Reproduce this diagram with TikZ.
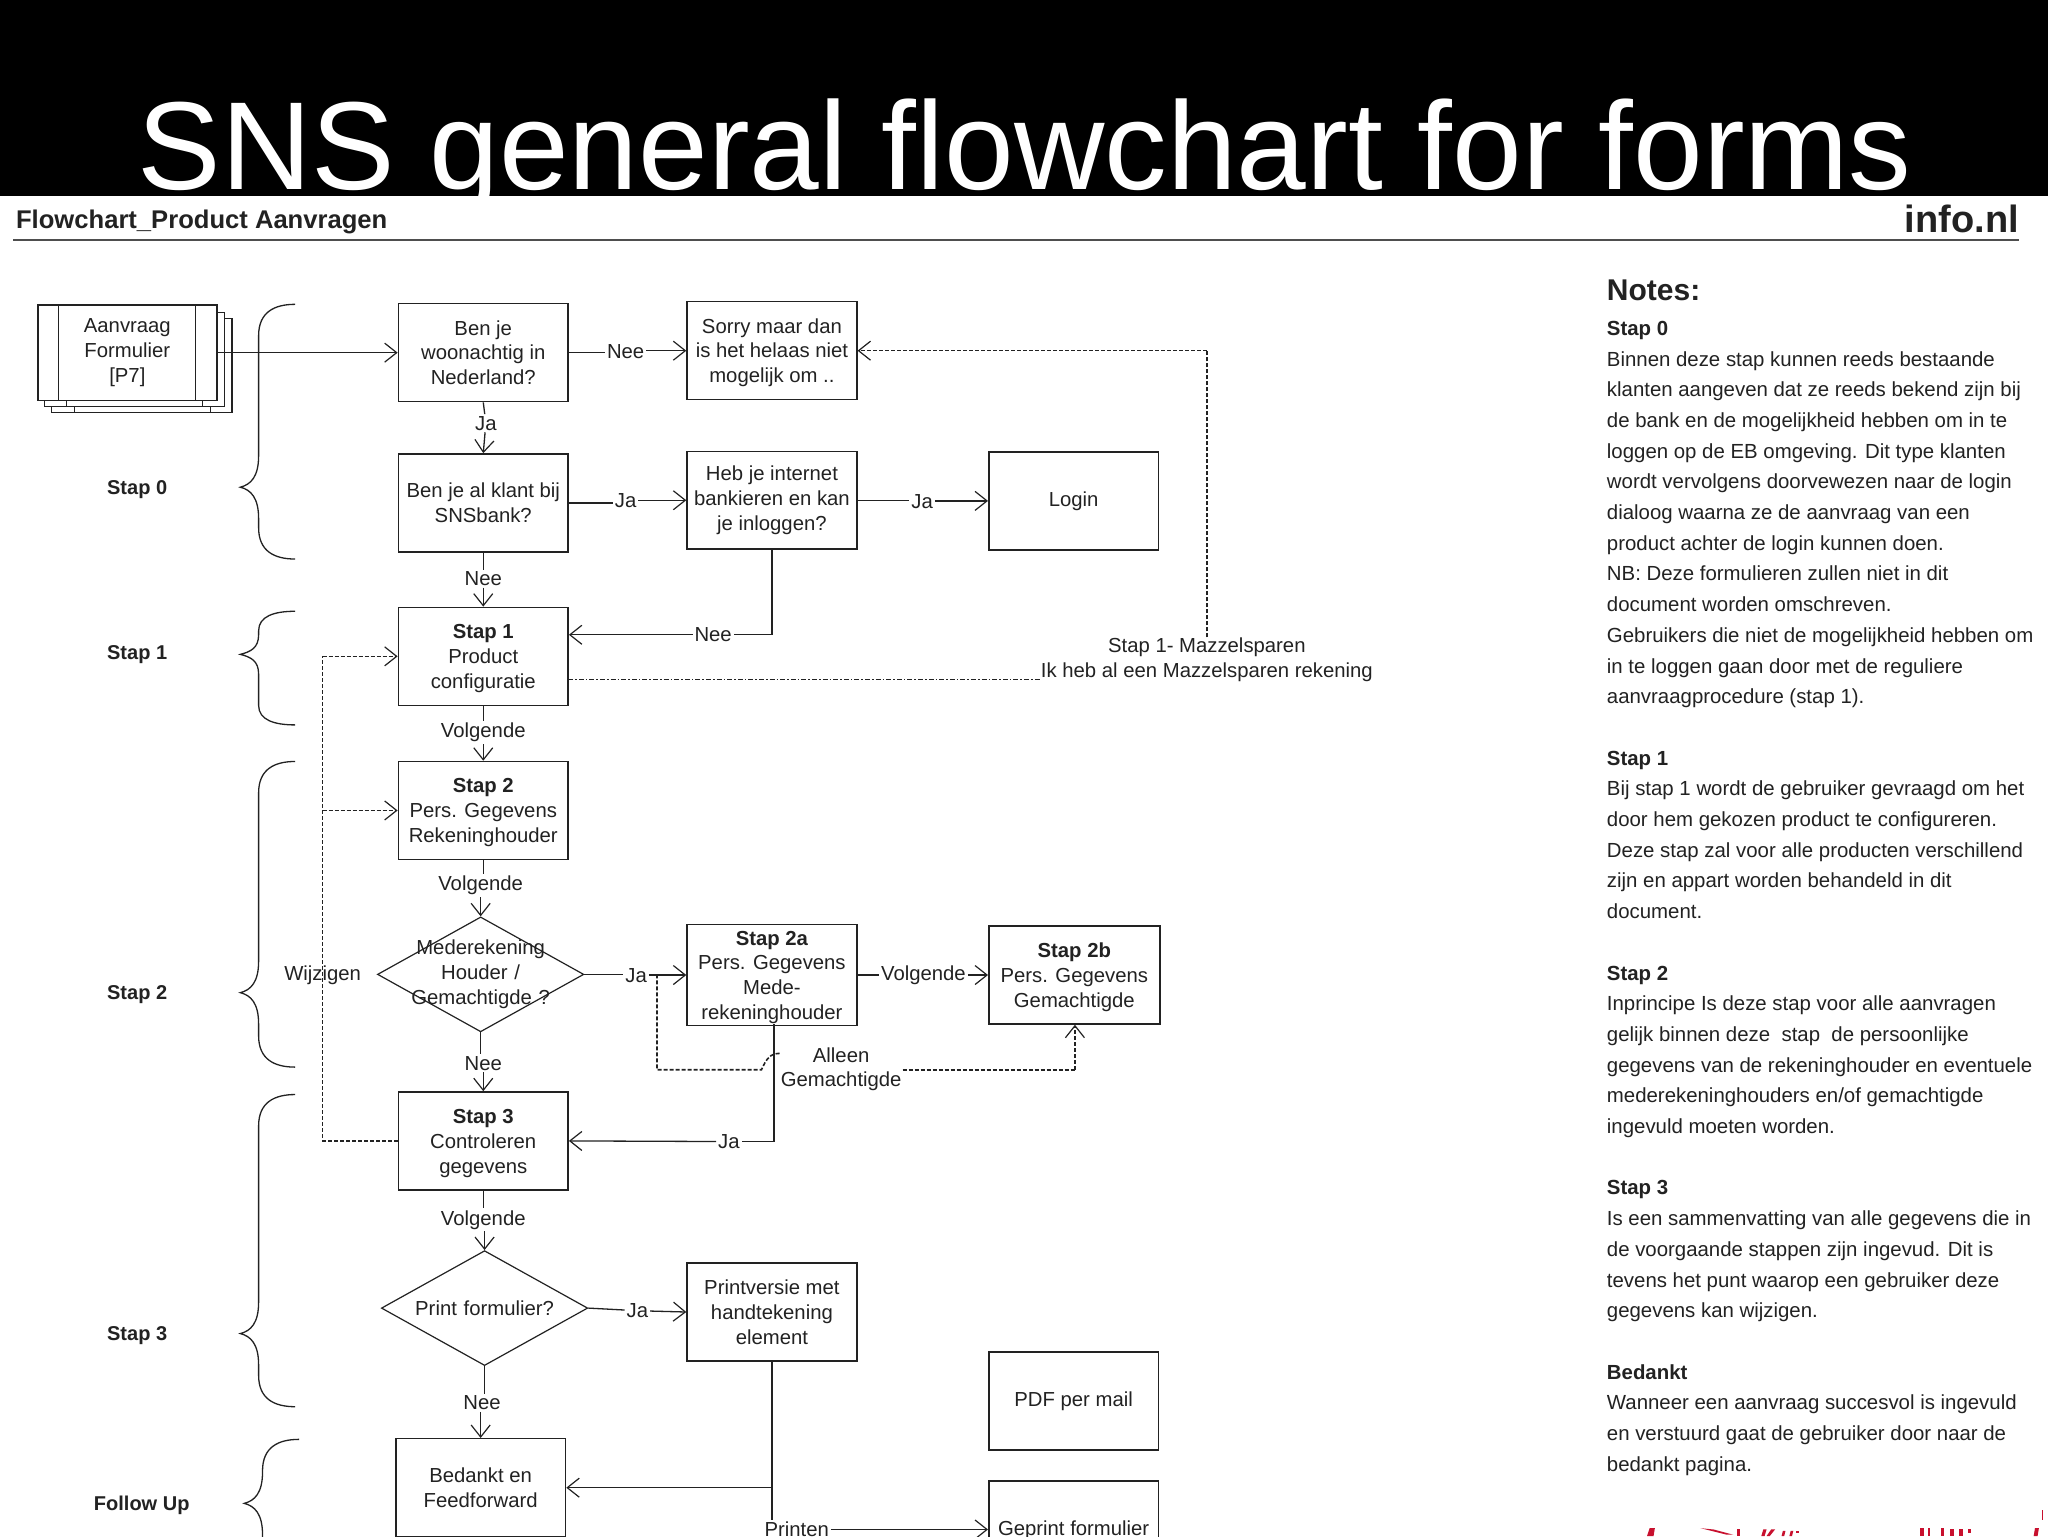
\documentclass[tikz,border=0pt]{standalone}
\usepackage{fontspec}
\setmainfont{Liberation Sans}
\usetikzlibrary{arrows.meta,shapes.geometric,calc}
\definecolor{ink}{HTML}{222222}
\definecolor{logored}{HTML}{C8102E}
\tikzset{
  box/.style={draw=ink,line width=.75pt,fill=white,minimum width=130*.653pt,minimum height=75*.653pt,inner sep=1pt,align=center,font=\fontsize{10.15}{12.4}\selectfont,text=ink},
  dia/.style={draw=ink,line width=.6pt,fill=white,diamond,aspect=1.8,inner sep=0pt,align=center,font=\fontsize{10.15}{12.4}\selectfont,text=ink},
  lbl/.style={inner sep=.8pt,font=\fontsize{10.15}{12.2}\selectfont,text=ink,align=center},
  stp/.style={font=\bfseries\fontsize{10}{12}\selectfont,text=ink},
  conn/.style={draw=ink,line width=.65pt},
  arr/.style={conn,-{Straight Barb[length=6pt,width=9.5pt,line width=.6pt]}},
  dsh/.style={draw=ink,line width=.8pt,dash pattern=on 2pt off 1pt},
  darr/.style={dsh,-{Straight Barb[length=6pt,width=9.5pt,line width=.6pt]}},
  brc/.style={draw=ink,line width=.65pt},
  logobit/.style={fill=logored,draw=none},
}
\newcommand{\sbrace}[5]{%
 \draw[brc] (#1+28,#2) .. controls (#1+12,#2) and (#1,#2+#5/4) .. (#1,#2+#5)
   -- (#1,#3-#5) .. controls (#1,#3-#5/3) and (#1-6,#3-2) .. (#1-14,#3)
   .. controls (#1-6,#3+2) and (#1,#3+#5/3) .. (#1,#3+#5)
   -- (#1,#4-#5) .. controls (#1,#4-#5/4) and (#1+12,#4) .. (#1+28,#4);}
\newcommand{\dn}{\rule{0pt}{9.4pt}}
\begin{document}
\begin{tikzpicture}[x=0.653061pt,y=-0.653061pt]
\useasboundingbox (0,0) rectangle (1568,1176);
\clip (0,0) rectangle (1568,1176);
\fill[black] (0,0) rectangle (1568,160);
\node[anchor=base,text=white,inner sep=0pt,font=\fontsize{62.6}{70}\selectfont] (title) at (784.5,145) {SNS general flowchart for forms};
\fill[white] (0,150) rectangle (1568,1176);
% header
\node[anchor=base west,inner sep=0pt,text=ink,font=\bfseries\fontsize{12.8}{14}\selectfont] (hdr) at (12,175) {Flowchart\_Product Aanvragen};
\node[anchor=base east,inner sep=0pt,text=ink,font=\bfseries\fontsize{19}{21}\selectfont] (info) at (1546,178) {info.nl};
\draw[draw=ink!80,line width=1pt] (10,184) -- (1546,184);
% form stack
\draw[conn,fill=white] (39.5,243.6) rectangle (177.7,316);
\draw[conn] (57,306) -- (57,316) (161,306) -- (161,316);
\draw[conn,fill=white] (34,239) rectangle (172,311);
\draw[conn] (51,306) -- (51,311) (155,306) -- (155,311);
\node[box,minimum width=137*.653pt,minimum height=73*.653pt] (form) at (97.5,270) {Aanvraag\\Formulier\\{[P7]}};
\draw[conn] (45,233.5) -- (45,306.5) (149.5,233.5) -- (149.5,306.5);
% boxes
\node[box] (q1) at (370,270) {Ben je\\woonachtig in\\Nederland?};
\node[box] (sorry) at (591,268.5) {\dn Sorry maar dan\\is het helaas niet\\mogelijk om ..};
\node[box] (q2) at (370,385) {Ben je al klant bij\\SNSbank?};
\node[box] (heb) at (591,383) {Heb je internet\\bankieren en kan\\je inloggen?};
\node[box] (login) at (822,383.5) {Login};
\node[box] (s1) at (370,502.5) {\dn\textbf{Stap 1}\\Product\\configuratie};
\node[box] (s2) at (370,620.5) {\dn\textbf{Stap 2}\\Pers. Gegevens\\Rekeninghouder};
\node[dia,minimum width=158*.653pt,minimum height=88*.653pt,text width=0pt] (d1) at (368,746) {\raisebox{-1pt}{\makebox[0pt]{Mederekening}}\\\raisebox{-1pt}{\makebox[0pt]{Houder /}}\\\raisebox{-1pt}{\makebox[0pt]{Gemachtigde ?}}};
\node[box] (s2a) at (591,746.5) {\dn\textbf{Stap 2a}\\Pers. Gegevens\\Mede-\\rekeninghouder};
\node[box,minimum width=131*.653pt] (s2b) at (822.5,746.5) {\dn\textbf{Stap 2b}\\Pers. Gegevens\\Gemachtigde};
\node[box] (s3) at (370,873.5) {\dn\textbf{Stap 3}\\Controleren\\gegevens};
\node[dia,minimum width=158*.653pt,minimum height=88*.653pt,text width=0pt] (d2) at (371,1001.5) {\makebox[0pt]{Print formulier?}};
\node[box] (print) at (591,1004.5) {Printversie met\\handtekening\\element};
\node[box] (pdf) at (822,1072.5) {PDF per mail};
\node[box] (bed) at (368,1139) {Bedankt en\\Feedforward};
\node[box] (gep) at (822,1171.5) {Geprint formulier};
% step labels
\node[stp] (l0) at (105,374.5) {Stap 0};
\node[stp] (l1) at (105,501.5) {Stap 1};
\node[stp] (l2) at (105,761.5) {Stap 2};
\node[stp] (l3) at (105,1022.5) {Stap 3};
\node[stp] (l4) at (108.5,1152.5) {Follow Up};
\sbrace{198}{233}{373}{428}{24}
\sbrace{198}{468}{501}{555}{15}
\sbrace{198}{583}{760}{817}{24}
\sbrace{198}{838}{1021}{1077}{24}
\sbrace{201}{1102}{1151}{1205}{24}
% labels
\node[lbl] (a1) at (479,269) {Nee};
\node[lbl] (a2) at (372,324) {Ja};
\node[lbl] (a3) at (479,383) {Ja};
\node[lbl] (a4) at (706,384) {Ja};
\node[lbl] (a5) at (370,443) {Nee};
\node[lbl] (a6) at (546,486) {Nee};
\node[lbl] (a7) at (370,561) {Volgende};
\node[lbl] (a8) at (368,678) {Volgende};
\node[lbl] (a9) at (370,814) {Nee};
\node[lbl] (a10) at (487,747) {Ja};
\node[lbl] (a11) at (707,747) {Volgende};
\node[lbl] (a12) at (558,874) {Ja};
\node[lbl] (a13) at (370,934) {Volgende};
\node[lbl] (a14) at (488,1003.5) {Ja};
\node[lbl] (a15) at (369,1074) {Nee};
\node[lbl] (a16) at (610,1171) {Printen};
\node[lbl] (wij) at (247,747) {Wijzigen};
\node[lbl] (alleen) at (644,818.5) {Alleen\\Gemachtigde};
\node[lbl] (maz) at (924,505) {Stap 1- Mazzelsparen\\Ik heb al een Mazzelsparen rekening};
% connectors
\draw[arr] (form.east) -- (q1.west);
\draw[conn] (q1.east) -- (a1.west |- q1.east);
\draw[arr] (a1.east |- sorry.west) -- (sorry.west);
\draw[conn] (q1.south) -- (a2);
\draw[arr] (a2) -- (q2.north);
\draw[conn] (q2.east) -- (a3.west |- q2.east);
\draw[arr] (a3.east |- heb.west) -- (heb.west);
\draw[conn] (heb.east) -- (a4.west |- heb.east);
\draw[arr] (a4.east |- login.west) -- (login.west);
\draw[conn] (q2.south) -- (a5);
\draw[arr] (a5) -- (s1.north);
\draw[conn] (heb.south) |- (a6);
\draw[arr] (a6) -- (s1.east |- a6);
\draw[conn] (s1.south) -- (a7);
\draw[arr] (a7) -- (s2.north);
\draw[conn] (s2.south) -- (s2.south |- a8.north);
\draw[arr] (d1.north |- a8.south) -- (d1.north);
\draw[conn] (d1.south) -- (d1.south |- a9.north);
\draw[arr] (s3.north |- a9.south) -- (s3.north);
\draw[conn] (d1.east) -- (a10.west |- d1.east);
\draw[arr] (a10.east |- s2a.west) -- (s2a.west);
\draw[conn] (s2a.east) -- (a11.west |- s2a.east);
\draw[arr] (a11.east |- s2b.west) -- (s2b.west);
\coordinate (c2a) at (592.5,784);
\draw[conn] (c2a) |- (a12);
\draw[arr] (a12) -- (s3.east);
\draw[conn] (s3.south) -- (a13);
\draw[arr] (d2.north |- a13.south) -- (d2.north);
\draw[conn] (d2.east) -- (a14);
\draw[arr] (a14) -- (print.west);
\draw[conn] (d2.south) -- (d2.south |- a15.north);
\draw[arr] (bed.north |- a15.south) -- (bed.north);
\coordinate (j1) at (591,1139);
\draw[conn] (print.south) -- (j1);
\draw[arr] (j1) -- (bed.east);
\draw[conn] (j1) -- (a16.north -| j1);
\draw[arr] (a16) -- (gep.west |- a16);
% dashed
\coordinate (w1) at (247,873.5);
\coordinate (w2) at (247,502.5);
\coordinate (w3) at (247,620.5);
\draw[dsh] (s3.west) -- (w1) -- (w2);
\draw[darr] (w2) -- (s1.west);
\draw[darr] (w3) -- (s2.west);
\coordinate (b0) at (503,746);
\coordinate (b1) at (503,819);
\coordinate (b2) at (583,819);
\coordinate (b3) at (597,806.5);
\draw[dsh] (b0) -- (b1) -- (b2) .. controls (587,810) and (590,806.5) .. (b3);
\coordinate (b4) at (691,819);
\coordinate (b5) at (823,819);
\draw[dsh] (b4) -- (b5);
\draw[darr] (b5) -- (s2b.south -| b5);
\coordinate (m1) at (435,520);
\coordinate (m2) at (797,520);
\coordinate (m3) at (924,488);
\coordinate (m4) at (924,268.5);
\draw[draw=ink,line width=.65pt,dash pattern=on 2.5pt off 1pt on .8pt off 1pt] (m1) -- (m2);
\draw[dsh] (m3) -- (m4);
\draw[darr] (m4) -- (sorry.east);
% notes
\node[anchor=base west,inner sep=0pt,text=ink,font=\bfseries\fontsize{15}{17}\selectfont] (nh) at (1230,230) {Notes:};
\node[anchor=north west,inner sep=0pt,text=ink,align=left,font=\fontsize{10.2}{15.35}\selectfont] (notes) at (1230,245.5) {%
\textbf{Stap 0}\\
Binnen deze stap kunnen reeds bestaande\\
klanten aangeven dat ze reeds bekend zijn bij\\
de bank en de mogelijkheid hebben om in te\\
loggen op de EB omgeving. Dit type klanten\\
wordt vervolgens doorvewezen naar de login\\
dialoog waarna ze de aanvraag van een\\
product achter de login kunnen doen.\\
NB: Deze formulieren zullen niet in dit\\
document worden omschreven.\\
Gebruikers die niet de mogelijkheid hebben om\\
in te loggen gaan door met de reguliere\\
aanvraagprocedure (stap 1).\\[15.35pt]
\textbf{Stap 1}\\
Bij stap 1 wordt de gebruiker gevraagd om het\\
door hem gekozen product te configureren.\\
Deze stap zal voor alle producten verschillend\\
zijn en appart worden behandeld in dit\\
document.\\[15.35pt]
\textbf{Stap 2}\\
Inprincipe Is deze stap voor alle aanvragen\\
gelijk binnen deze\ \ stap\ \ de persoonlijke\\
gegevens van de rekeninghouder en eventuele\\
mederekeninghouders en/of gemachtigde\\
ingevuld moeten worden.\\[15.35pt]
\textbf{Stap 3}\\
Is een sammenvatting van alle gegevens die in\\
de voorgaande stappen zijn ingevud. Dit is\\
tevens het punt waarop een gebruiker deze\\
gegevens kan wijzigen.\\[15.35pt]
\textbf{Bedankt}\\
Wanneer een aanvraag succesvol is ingevuld\\
en verstuurd gaat de gebruiker door naar de\\
bedankt pagina.};
% cut-off red logo fragments at the page foot
\fill[logobit] (1261,1176) -- (1263,1170) -- (1267,1170) -- (1266,1176) -- cycle;
\fill[logobit] (1302,1170) -- (1312,1171) -- (1327,1175) -- (1322,1175) -- cycle;
\fill[logobit] (1330,1171) rectangle (1332,1176);
\fill[logobit] (1350,1171) -- (1352.5,1171) -- (1351,1176) -- (1348.5,1176) -- cycle;
\fill[logobit] (1356,1171) -- (1359,1171) -- (1355,1176) -- (1352.5,1176) -- cycle;
\fill[logobit] (1365,1172) -- (1367,1172) -- (1366,1176) -- (1364,1176) -- cycle;
\fill[logobit] (1371,1172) -- (1373,1172) -- (1372,1176) -- (1370,1176) -- cycle;
\fill[logobit] (1375,1172) rectangle (1377,1174);
\fill[logobit] (1470,1170) rectangle (1473,1176);
\fill[logobit] (1476,1170) rectangle (1478,1176);
\fill[logobit] (1486,1170) rectangle (1488,1176);
\fill[logobit] (1493,1171) rectangle (1496,1176);
\fill[logobit] (1500,1171) rectangle (1503,1176);
\fill[logobit] (1507,1171) rectangle (1509,1174);
\fill[logobit] (1558,1170) -- (1561,1170) -- (1560,1176) -- (1557,1176) -- cycle;
\fill[logobit] (1563,1156) rectangle (1564,1164);
\end{tikzpicture}
\end{document}
